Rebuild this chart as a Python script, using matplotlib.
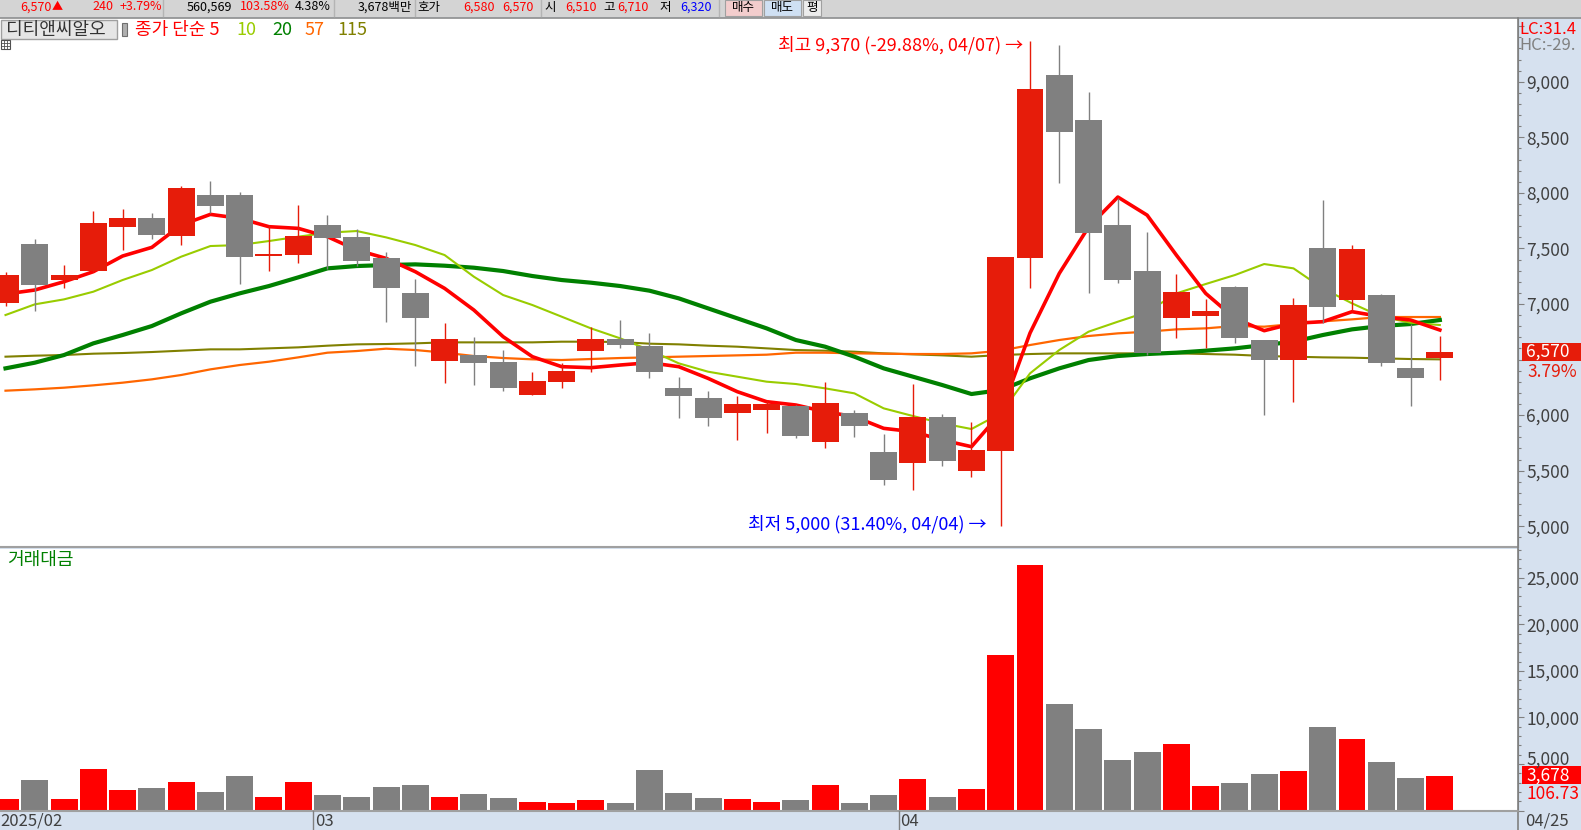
import numpy as np
import matplotlib
matplotlib.use('Agg')
import matplotlib.pyplot as plt
from matplotlib.patches import Rectangle
from matplotlib.ticker import MultipleLocator, FuncFormatter

plt.rcParams['font.family'] = ['Noto Sans CJK KR', 'DejaVu Sans']

# ---- data (daily candles 2025-02-14 .. 2025-04-25) ----
opens = [7010, 7540, 7215, 7300, 7695, 7775, 7610, 7980, 7980, 7430,
         7440, 7710, 7605, 7415, 7100, 6490, 6540, 6480, 6185, 6300,
         6580, 6685, 6620, 6245, 6155, 6020, 6050, 6080, 5760, 6020,
         5670, 5565, 5985, 5500, 5680, 7410, 9060, 8655, 7710, 7295,
         6870, 6895, 7155, 6675, 6500, 7505, 7040, 7080, 6425, 6510]
highs = [7285, 7585, 7350, 7840, 7855, 7820, 8060, 8105, 8010, 7710,
         7890, 7800, 7675, 7470, 7225, 6830, 6705, 6585, 6390, 6470,
         6795, 6855, 6740, 6345, 6215, 6170, 6135, 6090, 6300, 6045,
         5830, 6280, 6010, 5940, 7420, 9370, 9330, 8910, 7950, 7650,
         7270, 7045, 7160, 6680, 7055, 7935, 7530, 7090, 6820, 6710]
lows = [6985, 6940, 7145, 7290, 7485, 7585, 7530, 7815, 7180, 7300,
        7370, 7315, 7340, 6840, 6445, 6290, 6275, 6220, 6185, 6245,
        6390, 6605, 6335, 5970, 5905, 5780, 5835, 5790, 5700, 5805,
        5375, 5330, 5545, 5445, 5000, 7145, 8090, 7100, 7190, 6540,
        6690, 6600, 6650, 6005, 6120, 6830, 6940, 6445, 6085, 6320]
closes = [7260, 7170, 7260, 7730, 7775, 7620, 8045, 7880, 7425, 7450,
          7610, 7595, 7385, 7145, 6870, 6685, 6470, 6245, 6305, 6395,
          6685, 6635, 6390, 6175, 5975, 6100, 6100, 5815, 6110, 5905,
          5420, 5985, 5590, 5690, 7420, 8935, 8550, 7640, 7220, 6555,
          7110, 6935, 6690, 6500, 6990, 6975, 7495, 6470, 6330, 6570]
# trading value, million won
values = [1235, 3276, 1235, 4457, 2202, 2417, 3061, 1987, 3705, 1450,
          3061, 1665, 1450, 2524, 2739, 1450, 1772, 1343, 913, 805,
          1128, 805, 4350, 1880, 1343, 1235, 913, 1128, 2739, 805,
          1665, 3383, 1450, 2309, 16701, 26367, 11438, 8754, 5424, 6283,
          7142, 2631, 2954, 3920, 4242, 8968, 7679, 5209, 3490, 3678]

ma5 = [7090, 7126, 7201, 7291, 7432, 7510, 7711, 7807, 7771, 7696,
       7681, 7606, 7486, 7411, 7291, 7141, 6946, 6706, 6526, 6436,
       6427, 6451, 6472, 6436, 6331, 6211, 6121, 6091, 6031, 5986,
       5881, 5851, 5776, 5716, 6019, 6739, 7276, 7693, 7963, 7800,
       7440, 7096, 6870, 6760, 6826, 6841, 6931, 6886, 6856, 6766]
ma10 = [6901, 6997, 7042, 7111, 7216, 7306, 7426, 7522, 7531, 7567,
        7606, 7642, 7657, 7600, 7531, 7441, 7246, 7081, 6991, 6886,
        6781, 6691, 6586, 6466, 6391, 6346, 6301, 6280, 6241, 6196,
        6061, 5992, 5926, 5875, 6016, 6376, 6586, 6751, 6841, 6928,
        7096, 7180, 7261, 7360, 7321, 7141, 7006, 6886, 6832, 6811]
ma20 = [6421, 6472, 6541, 6646, 6721, 6802, 6916, 7021, 7096, 7162,
        7240, 7321, 7342, 7351, 7357, 7345, 7327, 7297, 7252, 7216,
        7192, 7162, 7120, 7051, 6961, 6871, 6781, 6676, 6616, 6526,
        6421, 6346, 6271, 6190, 6226, 6331, 6421, 6496, 6532, 6550,
        6562, 6580, 6601, 6631, 6661, 6721, 6772, 6802, 6820, 6856]
ma57 = [6220, 6232, 6247, 6268, 6292, 6322, 6361, 6412, 6451, 6481,
        6520, 6562, 6577, 6598, 6586, 6562, 6532, 6514, 6502, 6496,
        6505, 6514, 6520, 6526, 6532, 6538, 6544, 6562, 6562, 6556,
        6553, 6550, 6550, 6556, 6580, 6631, 6676, 6712, 6736, 6751,
        6772, 6781, 6802, 6796, 6820, 6844, 6862, 6883, 6883, 6883]
ma115 = [6526, 6535, 6541, 6553, 6559, 6568, 6580, 6592, 6592, 6601,
         6610, 6625, 6637, 6640, 6646, 6655, 6655, 6655, 6655, 6661,
         6661, 6658, 6643, 6637, 6625, 6616, 6601, 6586, 6580, 6571,
         6556, 6547, 6538, 6526, 6541, 6550, 6556, 6556, 6556, 6556,
         6556, 6550, 6544, 6532, 6526, 6520, 6517, 6511, 6505, 6502]

month_labels = ['2025/02', '03', '04']
month_start = [0, 11, 31]
last_date = '04/25'

W, H = 1581, 830
RED = '#e61c0a'
VRED = '#ff0000'
GRAY = '#808080'
BLUE_BG = '#d6e1ef'
TXT = '#404040'

def fx(px):
    return px / W

def fy(py):
    return 1 - py / H

fig = plt.figure(figsize=(W / 100, H / 100), dpi=100, facecolor=BLUE_BG)

ax_p = fig.add_axes([0, fy(547), fx(1518), fy(18.5) - fy(547)])
ax_v = fig.add_axes([0, fy(810.5), fx(1518), fy(549) - fy(810.5)])

o = np.array(opens)
c = np.array(closes)
x = np.arange(len(o))
up = c >= o
ccol = np.where(up, RED, GRAY)
vcol = np.where(up, VRED, GRAY)

# moving averages under candles
ax_p.plot(x, ma115, color='#808000', lw=1.5, zorder=2)
ax_p.plot(x, ma57, color='#ff6600', lw=1.6, zorder=2)
ax_p.plot(x, ma20, color='#008000', lw=3.0, zorder=2)
ax_p.plot(x, ma10, color='#99cc00', lw=1.5, zorder=2)
ax_p.plot(x, ma5, color='#ff0000', lw=2.6, zorder=2)

ax_p.vlines(x, lows, highs, colors=ccol, lw=1.0, zorder=3)
ax_p.bar(x, c - o, bottom=o, width=0.92, color=ccol, lw=0, zorder=4)

ax_v.bar(x, values, width=0.92, color=vcol, lw=0)

for ax in (ax_p, ax_v):
    ax.set_xlim(-0.188, 51.67)
    ax.set_xticks([])
    ax.yaxis.tick_right()
    ax.spines['left'].set_visible(False)
    ax.spines['top'].set_visible(False)
    ax.spines['right'].set_color(GRAY)
    ax.spines['bottom'].set_color('#a0a0a0')
    ax.spines['bottom'].set_linewidth(1.5)
    ax.tick_params(axis='y', which='major', direction='out', length=4.3,
                   width=0.8, color=GRAY, labelsize=12.5, labelcolor=TXT, pad=1.5)
    ax.tick_params(axis='y', which='minor', direction='out', length=2.2,
                   width=0.8, color=GRAY)

ax_p.set_ylim(4813, 9570)
ax_p.yaxis.set_major_locator(MultipleLocator(500))
ax_p.yaxis.set_minor_locator(MultipleLocator(100))
ax_p.yaxis.set_major_formatter(FuncFormatter(
    lambda v, p: '' if round(v) in (6500, 9500) else f'{int(round(v)):,}'))

ax_v.set_ylim(0, 28085)
ax_v.yaxis.set_major_locator(MultipleLocator(5000))
ax_v.yaxis.set_minor_locator(MultipleLocator(1000))
ax_v.yaxis.set_major_formatter(FuncFormatter(
    lambda v, p: '' if v <= 0 or round(v) == 5000 else f'{int(round(v)):,}'))

# high / low annotations
hi_i = int(np.argmax(highs))
lo_i = int(np.argmin(lows))
ax_p.text(hi_i - 0.25, highs[hi_i] - 40, '최고 9,370 (-29.88%, 04/07) →',
          ha='right', va='center', color='#ff0000', fontsize=13, zorder=6)
ax_p.text(lo_i - 0.48, lows[lo_i] + 17, '최저 5,000 (31.40%, 04/04) →',
          ha='right', va='center', color='#0000ff', fontsize=13, zorder=6)

# overlay in pixel coordinates
ov = fig.add_axes([0, 0, 1, 1], zorder=10)
ov.set_xlim(0, W)
ov.set_ylim(H, 0)
ov.axis('off')
ov.patch.set_alpha(0)

def data_px(ax, xv, yv):
    d = ax.transData.transform((xv, yv))
    return d[0] * W / fig.bbox.width, H - d[1] * H / fig.bbox.height

# top status bar
ov.add_patch(Rectangle((0, 0), W, 17, facecolor='#d4d4d4', edgecolor='none'))
ov.plot([0, W], [17.7, 17.7], color='#8c8c8c', lw=1.2)
for sx in [163, 334, 415, 541, 719]:
    ov.plot([sx, sx], [0, 16], color='#b4b4b4', lw=1)
fs = 9
ov.text(20, 7, '6,570', color='#ff0000', fontsize=fs, va='center', ha='left')
ov.text(52, 7, '▲', color='#ff0000', fontsize=fs - 1, va='center', ha='left')
ov.text(113, 7, '240', color='#ff0000', fontsize=fs, va='center', ha='right')
ov.text(162, 7, '+3.79%', color='#ff0000', fontsize=fs, va='center', ha='right')
ov.text(232, 7, '560,569', color='#000000', fontsize=fs, va='center', ha='right')
ov.text(290, 7, '103.58%', color='#ff0000', fontsize=fs, va='center', ha='right')
ov.text(331, 7, '4.38%', color='#000000', fontsize=fs, va='center', ha='right')
ov.text(412, 7, '3,678백만', color='#000000', fontsize=fs, va='center', ha='right')
ov.text(417, 7, '호가', color='#000000', fontsize=fs, va='center', ha='left')
ov.text(495, 7, '6,580', color='#ff0000', fontsize=fs, va='center', ha='right')
ov.text(534, 7, '6,570', color='#ff0000', fontsize=fs, va='center', ha='right')
ov.text(544, 7, '시', color='#000000', fontsize=fs, va='center', ha='left')
ov.text(597, 7, '6,510', color='#ff0000', fontsize=fs, va='center', ha='right')
ov.text(603, 7, '고', color='#000000', fontsize=fs, va='center', ha='left')
ov.text(649, 7, '6,710', color='#ff0000', fontsize=fs, va='center', ha='right')
ov.text(659, 7, '저', color='#000000', fontsize=fs, va='center', ha='left')
ov.text(712, 7, '6,320', color='#0000ff', fontsize=fs, va='center', ha='right')
ov.add_patch(Rectangle((725, 0), 37, 16, facecolor='#f3cdcd', edgecolor='#a0a0a0', lw=0.8))
ov.text(743.5, 7, '매수', color='#000000', fontsize=fs, va='center', ha='center')
ov.add_patch(Rectangle((764, 0), 37, 16, facecolor='#cfe0f3', edgecolor='#a0a0a0', lw=0.8))
ov.text(782.5, 7, '매도', color='#000000', fontsize=fs, va='center', ha='center')
ov.add_patch(Rectangle((803, 0), 18, 16, facecolor='#ececec', edgecolor='#a0a0a0', lw=0.8))
ov.text(812, 7, '평', color='#000000', fontsize=fs, va='center', ha='center')

# header row
ov.add_patch(Rectangle((1, 20.5), 116, 19, facecolor='#e6e6e6', edgecolor='#a0a0a0', lw=1))
ov.text(6, 30, '디티앤씨알오', color='#333333', fontsize=13, va='center', ha='left')
ov.add_patch(Rectangle((122, 23), 5, 13, facecolor='#b0b0b0', edgecolor='#707070', lw=0.8))
ov.text(135, 30, '종가 단순 5', color='#ff0000', fontsize=13, va='center', ha='left')
ov.text(236, 30, '10', color='#99cc00', fontsize=13, va='center', ha='left')
ov.text(272, 30, '20', color='#008000', fontsize=13, va='center', ha='left')
ov.text(305, 30, '57', color='#ff6600', fontsize=13, va='center', ha='left')
ov.text(337, 30, '115', color='#808000', fontsize=13, va='center', ha='left')
ov.add_patch(Rectangle((1, 40), 9, 9, facecolor='white', edgecolor='#505050', lw=0.8))
for gx in [4, 7]:
    ov.plot([gx, gx], [40, 49], color='#505050', lw=0.6)
ov.plot([1, 10], [43, 43], color='#505050', lw=0.6)
ov.plot([1, 10], [46, 46], color='#505050', lw=0.6)
ov.text(7, 560, '거래대금', color='#008000', fontsize=13, va='center', ha='left')

# right strip labels
ov.plot([1517.5, 1517.5], [18, H], color=GRAY, lw=1.2)
ov.text(1519, 30, 'LC:31.4', color='#ff0000', fontsize=12, va='center', ha='left')
ov.text(1519, 46, 'HC:-29.', color=GRAY, fontsize=12, va='center', ha='left')

_, yc = data_px(ax_p, 0, closes[-1])
ov.add_patch(Rectangle((1522, yc - 9), W - 1522, 18, facecolor=RED, edgecolor='none'))
ov.text(1526, yc, f'{closes[-1]:,}', color='white', fontsize=12.5, va='center', ha='left')
ov.text(1527, yc + 20, '3.79%', color='#e61c0a', fontsize=12.5, va='center', ha='left')

_, y5 = data_px(ax_v, 0, 5000)
ov.text(1526, y5 - 4, '5,000', color=TXT, fontsize=12.5, va='center', ha='left')
_, yv = data_px(ax_v, 0, values[-1])
ov.add_patch(Rectangle((1522, yv - 10), W - 1522, 18, facecolor='#ff0000', edgecolor='none'))
ov.text(1526, yv - 1, f'{values[-1]:,}', color='white', fontsize=12.5, va='center', ha='left')
ov.text(1527, yv + 18, '106.73', color='#ff0000', fontsize=12.5, va='center', ha='left')

# date strip
ov.plot([0, 1518], [811, 811], color='#a0a0a0', lw=1.2)
for lab, si in zip(month_labels, month_start):
    if si == 0:
        ov.text(0, 821, lab, color=TXT, fontsize=12, va='center', ha='left')
    else:
        px, _ = data_px(ax_v, si - 0.48, 0)
        ov.plot([px, px], [811, H], color=GRAY, lw=1)
        ov.text(px + 1.5, 821, lab, color=TXT, fontsize=12, va='center', ha='left')
ov.text(1525, 821, last_date, color=TXT, fontsize=12, va='center', ha='left')

fig.savefig('out.png', dpi=100, facecolor=BLUE_BG)
